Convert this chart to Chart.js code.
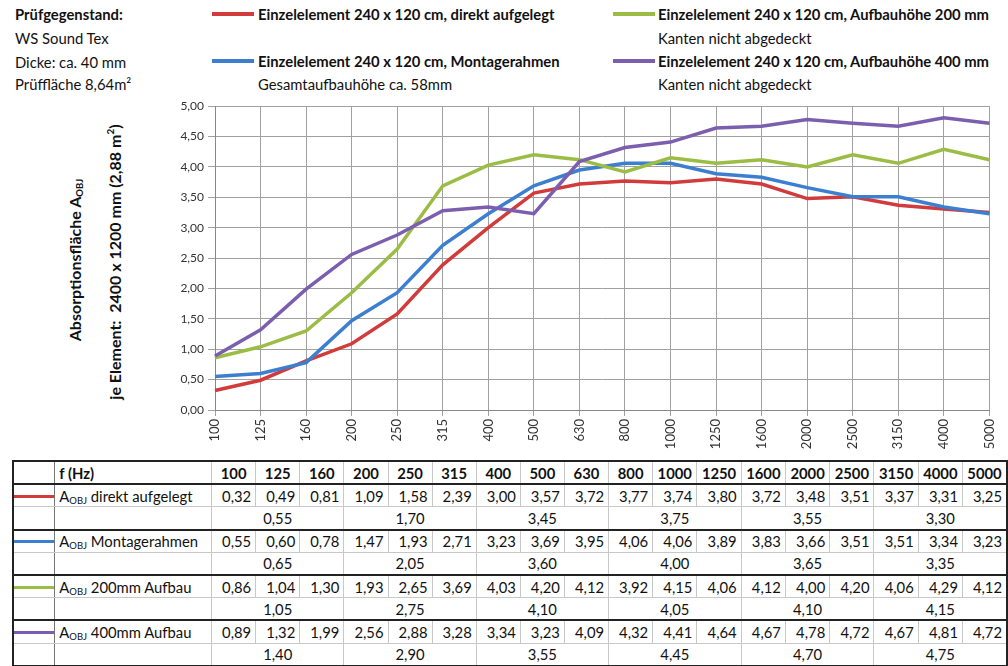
<!DOCTYPE html>
<html>
<head>
<meta charset="utf-8">
<script src="https://cdn.jsdelivr.net/npm/chart.js@4.4.1/dist/chart.umd.min.js"></script>
<style>
  body { margin: 0; width: 1008px; height: 666px; overflow: hidden; background: #fff;
         font-family: Lato, "Open Sans", sans-serif; color: #111; position: relative; }
  .t { position: absolute; font-size: 14.8px; white-space: nowrap; line-height: 16px; }
  .b { font-weight: bold; }
  .ln { position: absolute; height: 4px; width: 42px; }
  #chartBox { position: absolute; left: 150px; top: 95px; width: 858px; height: 360px; }
  .ytitle { position: absolute; font-weight: bold; font-size: 16px; white-space: nowrap;
            transform: translate(-50%, -50%) rotate(-90deg); }
  sub { font-size: 9.5px; vertical-align: -2px; line-height: 0; }
  table { position: absolute; left: 12px; top: 460px; border-collapse: collapse; table-layout: fixed;
          font-size: 14.8px; border: 2px solid #222; }
  td { border: 1px solid #c8c8c8; padding: 0 4px; height: 21.2px; line-height: 16px; white-space: nowrap; overflow: hidden; }
  td.num { text-align: right; }
  td.hd { text-align: center; font-weight: bold; }
  td.oct { text-align: center; }
  td.leg { border-right: 1px solid #777; padding: 0; position: relative; }
  td.leg div { position: absolute; left: 0; right: 0; top: 50%; height: 3px; margin-top: -1px; }
  tr.thick td { border-bottom: 2px solid #222; }
</style>
</head>
<body>
<div class="t b" style="left:15px;top:6px">Prüfgegenstand:</div>
<div class="t" style="left:15px;top:30px">WS Sound Tex</div>
<div class="t" style="left:15px;top:54px">Dicke: ca. 40 mm</div>
<div class="t" style="left:15px;top:76px">Prüffläche 8,64m²</div>

<div class="ln" style="left:212px;top:12px;background:#d13b3b"></div>
<div class="t b" style="left:258px;top:6px">Einzelelement 240 x 120 cm, direkt aufgelegt</div>
<div class="ln" style="left:212px;top:59px;background:#3c7fd0"></div>
<div class="t b" style="left:258px;top:53px">Einzelelement 240 x 120 cm, Montagerahmen</div>
<div class="t" style="left:258px;top:76px">Gesamtaufbauhöhe ca. 58mm</div>

<div class="ln" style="left:613px;top:12px;background:#9bbd45"></div>
<div class="t b" style="left:658px;top:6px">Einzelelement 240 x 120 cm, Aufbauhöhe 200 mm</div>
<div class="t" style="left:658px;top:30px">Kanten nicht abgedeckt</div>
<div class="ln" style="left:613px;top:59px;background:#7b5fae"></div>
<div class="t b" style="left:658px;top:53px">Einzelelement 240 x 120 cm, Aufbauhöhe 400 mm</div>
<div class="t" style="left:658px;top:76px">Kanten nicht abgedeckt</div>

<div class="ytitle" style="left:74px;top:260px">Absorptionsfläche A<sub>OBJ</sub></div>
<div class="ytitle" style="left:114px;top:262px">je Element:&nbsp; 2400 x 1200 mm (2,88 m<sup style="font-size:10px">2</sup>)</div>

<div id="chartBox"><canvas id="chart" width="858" height="360"></canvas></div>

<table id="tbl"></table>

<script>
const freqs = ["100", "125", "160", "200", "250", "315", "400", "500", "630", "800",
  "1000", "1250", "1600", "2000", "2500", "3150", "4000", "5000"];

const direkt = [0.32, 0.49, 0.81, 1.09, 1.58, 2.39, 3.00, 3.57, 3.72, 3.77, 3.74, 3.80, 3.72, 3.48, 3.51, 3.37, 3.31, 3.25];
const montage = [0.55, 0.60, 0.78, 1.47, 1.93, 2.71, 3.23, 3.69, 3.95, 4.06, 4.06, 3.89, 3.83, 3.66, 3.51, 3.51, 3.34, 3.23];
const aufbau200 = [0.86, 1.04, 1.30, 1.93, 2.65, 3.69, 4.03, 4.20, 4.12, 3.92, 4.15, 4.06, 4.12, 4.00, 4.20, 4.06, 4.29, 4.12];
const aufbau400 = [0.89, 1.32, 1.99, 2.56, 2.88, 3.28, 3.34, 3.23, 4.09, 4.32, 4.41, 4.64, 4.67, 4.78, 4.72, 4.67, 4.81, 4.72];

// octave band values (one per 3 third-octave columns)
const direktOct = [0.55, 1.70, 3.45, 3.75, 3.55, 3.30];
const montageOct = [0.65, 2.05, 3.60, 4.00, 3.65, 3.35];
const aufbau200Oct = [1.05, 2.75, 4.10, 4.05, 4.10, 4.15];
const aufbau400Oct = [1.40, 2.90, 3.55, 4.45, 4.70, 4.75];

const rowNames = ["direkt aufgelegt", "Montagerahmen", "200mm Aufbau", "400mm Aufbau"];
const colors = ["#d13b3b", "#3c7fd0", "#9bbd45", "#7b5fae"];

const fmt = (v) => v.toFixed(2).replace(".", ",");

// Table
const tbl = document.getElementById("tbl");
let html = '<colgroup><col style="width:43px"><col style="width:157px">';
freqs.forEach(() => (html += '<col style="width:44.3px">'));
html += "</colgroup>";
html += '<tr class="thick"><td class="leg"></td><td style="font-weight:bold">f (Hz)</td>';
freqs.forEach((f) => (html += '<td class="hd">' + f + "</td>"));
html += "</tr>";
const series = [direkt, montage, aufbau200, aufbau400];
const octs = [direktOct, montageOct, aufbau200Oct, aufbau400Oct];
series.forEach((s, i) => {
  html += '<tr><td class="leg"><div style="background:' + colors[i] + '"></div></td>';
  html += "<td>A<sub>OBJ</sub> " + rowNames[i] + "</td>";
  s.forEach((v) => (html += '<td class="num">' + fmt(v) + "</td>"));
  html += "</tr>";
  html += '<tr class="thick"><td class="leg"></td><td></td>';
  octs[i].forEach((v) => (html += '<td class="oct" colspan="3">' + fmt(v) + "</td>"));
  html += "</tr>";
});
tbl.innerHTML = html;

// Chart
const ctx = document.getElementById("chart").getContext("2d");
const chart = new Chart(ctx, {
  type: "line",
  data: {
    labels: freqs,
    datasets: [
      { label: "direkt aufgelegt", data: direkt, borderColor: colors[0], order: 4 },
      { label: "Montagerahmen", data: montage, borderColor: colors[1], order: 3 },
      { label: "Aufbauhöhe 200 mm", data: aufbau200, borderColor: colors[2], order: 2 },
      { label: "Aufbauhöhe 400 mm", data: aufbau400, borderColor: colors[3], order: 1 },
    ].map((d) => ({ ...d, borderWidth: 3.5, pointRadius: 0, tension: 0, fill: false })),
  },
  options: {
    responsive: false,
    animation: false,
    devicePixelRatio: 1,
    layout: { padding: { top: 10, right: 9, left: 0, bottom: 0 } },
    plugins: { legend: { display: false }, tooltip: { enabled: false } },
    scales: {
      y: {
        min: 0,
        max: 5,
        ticks: { stepSize: 0.5, callback: (v) => fmt(v), font: { family: "Lato", size: 12 }, color: "#333", padding: 4 },
        grid: { color: "#a0a0a0", tickLength: 7 },
        border: { color: "#888" },
        afterFit: (s) => { s.width = 65; },
      },
      x: {
        offset: false,
        ticks: { autoSkip: false, maxRotation: 90, minRotation: 90, font: { family: "Lato", size: 13 }, color: "#333", padding: 3 },
        grid: { color: "#a0a0a0", tickLength: 6, offset: false },
        border: { color: "#888" },
        afterFit: (s) => { s.height = 45; },
      },
    },
  },
});
</script>
</body>
</html>
